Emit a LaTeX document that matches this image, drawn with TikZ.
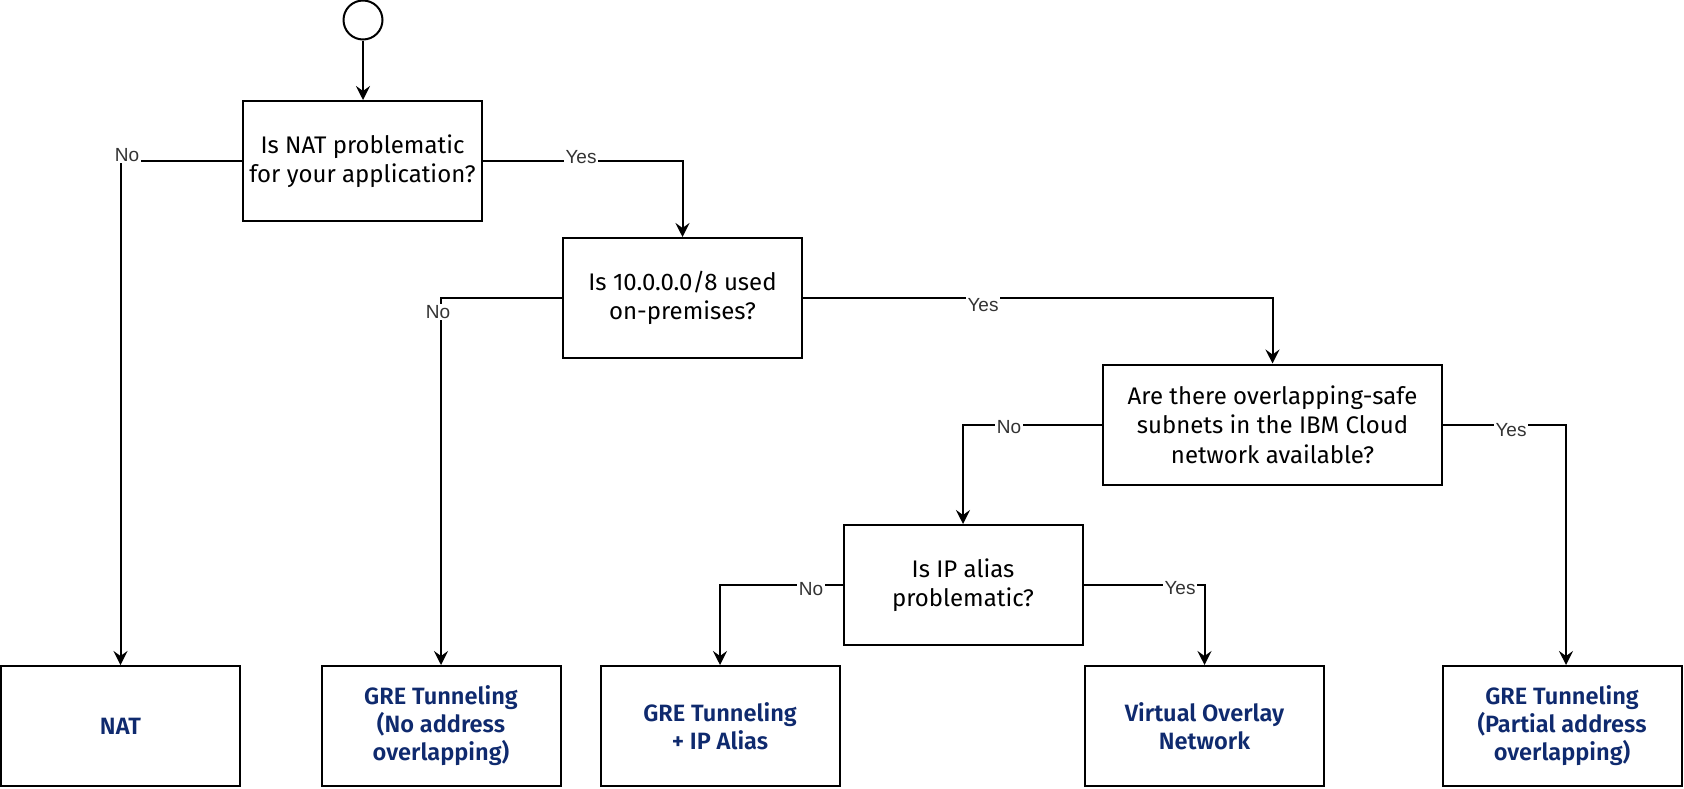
\documentclass[tikz,border=0pt]{standalone}
\usepackage{fontspec}
\setmainfont{Fira Sans}
\newfontfamily\lblfont{Liberation Sans}
\newfontfamily\semibold{Fira Sans SemiBold}
\usepackage{xcolor}
\usepackage{tikz}
\usetikzlibrary{arrows.meta,positioning}
\definecolor{navyx}{HTML}{0F2A6E}
\definecolor{lblgray}{HTML}{333333}
\tikzset{
  ar/.style={-{Stealth[length=7pt,width=7pt,inset=2.5pt]},line width=1pt},
  qbox/.style={draw,line width=1pt,align=center,minimum width=119.5pt,minimum height=60pt,inner sep=2pt,font=\fontsize{12}{14.7}\selectfont},
  endbox/.style={qbox,text=navyx,font=\semibold\fontsize{11.8}{14}\selectfont},
  lbl/.style={fill=white,inner sep=0.8pt,text=lblgray,font=\lblfont\fontsize{9.5}{11}\selectfont}
}

\begin{document}
\begin{tikzpicture}[x=0.5pt,y=-0.5pt]
\useasboundingbox (0,0) rectangle (1684,788);
\node[draw,circle,line width=1pt,minimum size=19.5pt,inner sep=0pt] (start) at (363,20) {};
% questions
\node[qbox] (natq) at (362.5,161) {Is NAT problematic\\for your application?};
\node[qbox] (tenq) at (682.5,298) {Is 10.0.0.0/8 used\\on-premises?};
\node[qbox,minimum width=169.5pt] (safeq) at (1272.5,424.5) {Are there overlapping-safe\\subnets in the IBM Cloud\\network available?};
\node[qbox] (aliasq) at (963,585) {Is IP alias\\problematic?};
% results
\node[endbox] (natend) at (120.5,726) {NAT};
\node[endbox] (greno) at (441,726) {GRE Tunneling\\(No address\\overlapping)};
\node[endbox] (greip) at (720,726) {GRE Tunneling\\+ IP Alias};
\node[endbox] (overlay) at (1204.5,726) {Virtual Overlay\\Network};
\node[endbox] (grepart) at (1562,726) {GRE Tunneling\\(Partial address\\overlapping)};
% connectors
\draw[ar] (start.south) -- (start.south |- natq.north);
\draw[ar] (natq.west) -| (natend.north);
\draw[ar] (natq.east) -| (tenq.north);
\draw[ar] (tenq.west) -| (greno.north);
\draw[ar] (tenq.east) -| (safeq.north);
\draw[ar] (safeq.west) -| (aliasq.north);
\draw[ar] (safeq.east) -| ([xshift=2pt]grepart.north);
\draw[ar] (aliasq.west) -| (greip.north);
\draw[ar] (aliasq.east) -| (overlay.north);
% labels
\node[lbl] (no1) at (127,155) {No};
\node[lbl] (yes1) at (581,157) {Yes};
\node[lbl] (no2) at (438,312) {No};
\node[lbl] (yes2) at (983,305) {Yes};
\node[lbl] (no3) at (1009,427) {No};
\node[lbl] (yes3) at (1511,430) {Yes};
\node[lbl] (no4) at (811,589) {No};
\node[lbl] (yes4) at (1180,588) {Yes};
\end{tikzpicture}
\end{document}
